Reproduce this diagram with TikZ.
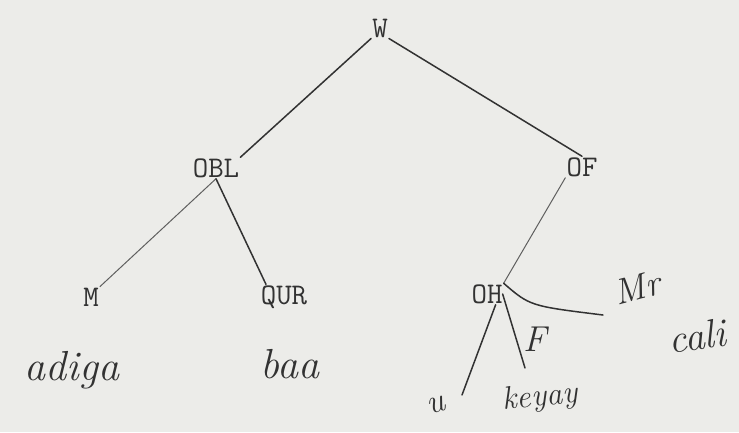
\documentclass[tikz,border=0pt]{standalone}
\usepackage{tikz}
\usetikzlibrary{arrows}
\definecolor{paper}{RGB}{236,236,233}
\definecolor{ink}{RGB}{50,50,50}
\definecolor{pencil}{RGB}{95,95,95}
\newcommand{\typed}{\ttfamily\fontsize{30}{30}\selectfont}
\newcommand{\hand}[1]{\itshape\fontsize{#1}{#1}\selectfont}

\begin{document}
\begin{tikzpicture}[x=1pt,y=-1pt]
\tikzstyle{every node}=[inner sep=1pt,text=ink]
\tikzstyle{typ}=[font=\typed]
\tikzstyle{stroke}=[draw=ink,line width=1.5pt,line cap=round]
\fill[paper] (0,0) rectangle (739,432);
\useasboundingbox (0,0) rectangle (739,432);
% typed tree
\node[typ] (w) at (380,28) {W};
\node[typ] (obl) at (216,168) {OBL};
\node[typ] (of) at (582,167) {OF};
\node[typ] (m) at (91,297) {M};
\node[typ] (qur) at (284,297) {QUR};
\node[typ] (oh) at (487,294) {OH};
\path[stroke] (w.south west) edge (obl.north east)
              (w.south east) edge (of.north);
\path[stroke,draw=pencil,line width=1pt] (obl.south) edge (m.north east)
              (of.south west) edge (oh.north east);
\path[stroke] (obl.south) edge ([xshift=-18pt]qur.north);
% handwritten words
\node[font=\hand{42}] (adiga) at (72,370) {adiga};
\node[font=\hand{42}] (baa) at (290,364) {baa};
\node[font=\hand{36},rotate=15] (mr) at (637,288) {Mr};
\node[font=\hand{40},rotate=8] (cali) at (697,336) {cali};
\node[font=\hand{36}] (f) at (535,339) {F};
\node[font=\hand{34},rotate=15] (u) at (436,405) {u};
\node[font=\hand{32},rotate=6] (keyay) at (540,398) {keyay};
\coordinate (mrend) at (603,315);
\coordinate (uend) at (462,395);
\coordinate (kend) at (525,368);
\draw[stroke] (oh.north east) .. controls (530,306) .. (mrend);
\draw[stroke] ([xshift=-8pt]oh.south east) -- (uend);
\draw[stroke] ([xshift=-1pt]oh.east) -- (kend);
\end{tikzpicture}
\end{document}
